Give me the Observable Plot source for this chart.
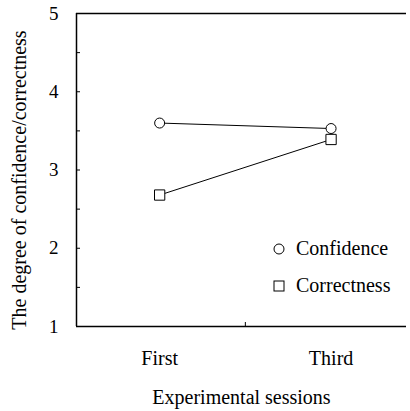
<!DOCTYPE html>
<html><head><meta charset="utf-8">
<script src="https://cdn.jsdelivr.net/npm/d3@7"></script>
<script src="https://cdn.jsdelivr.net/npm/@observablehq/plot@0.6"></script>
<style>
body{margin:0;background:#fff;}
#wrap{position:relative;width:410px;height:411px;font-family:"Liberation Serif","Times New Roman",serif;}
#wrap svg text{font-family:"Liberation Serif","Times New Roman",serif !important;}
#legend{position:absolute;left:272px;top:230px;font-size:20px;line-height:37px;color:#000;font-family:"Liberation Serif","Times New Roman",serif;}
#legend div{display:flex;align-items:center;}
#legend svg{margin-right:10px;}
</style></head>
<body><div id="wrap"><div id="legend"></div></div>
<script>
const sessions = ["First", "Third"];
const sessionPos = [1, 3];
const confidence = [3.6, 3.53];
const correctness = [2.68, 3.39];
const yTicks = [1, 2, 3, 4, 5];
const yMinorTicks = [1.5, 2.5, 3.5, 4.5];
const seriesNames = ["Confidence", "Correctness"];

const data = [];
sessions.forEach((s, i) => {
  data.push({series: seriesNames[0], x: sessionPos[i], y: confidence[i]});
  data.push({series: seriesNames[1], x: sessionPos[i], y: correctness[i]});
});
const labels = sessions.map((s, i) => ({x: sessionPos[i], label: s}));
const serif = '"Liberation Serif","Times New Roman",serif';

const chart = Plot.plot({
  width: 410, height: 411,
  marginLeft: 76, marginRight: 4, marginTop: 13, marginBottom: 85,
  style: {fontFamily: serif, fontSize: "20px", color: "#000", background: "#fff"},
  x: {domain: [0.03, 3.88], axis: null, label: null},
  y: {domain: [1, 5], axis: null, label: null},
  marks: [
    Plot.ruleY([1], {stroke: "#000", strokeWidth: 1.5}),
    Plot.ruleY([5], {stroke: "#000", strokeWidth: 1.5}),
    Plot.ruleX([0.03], {stroke: "#000", strokeWidth: 1.5}),
    Plot.axisY({ticks: yTicks.concat(yMinorTicks), tickSize: -4, tickFormat: d => Number.isInteger(d) ? d : "", tickPadding: 22, fontSize: 19, fontFamily: serif, stroke: "#000", label: null}),
    Plot.axisX({ticks: [2], tickSize: -4, tickFormat: () => "", stroke: "#000", label: null}),
    Plot.text(labels, {x: "x", text: "label", frameAnchor: "bottom", lineAnchor: "middle", dy: 32, fontSize: 20, fontFamily: serif}),
    Plot.line(data, {x: "x", y: "y", z: "series", stroke: "#000", strokeWidth: 1}),
    Plot.dot(data.filter(d => d.series === seriesNames[0]), {x: "x", y: "y", r: 5, symbol: "circle", fill: "#fff", stroke: "#000", strokeWidth: 1}),
    Plot.dot(data.filter(d => d.series === seriesNames[1]), {x: "x", y: "y", r: 5.8, symbol: "square", fill: "#fff", stroke: "#000", strokeWidth: 1}),
    Plot.text(["Experimental sessions"], {frameAnchor: "bottom", lineAnchor: "middle", dy: 71, fontSize: 20, fontFamily: serif}),
    Plot.text(["The degree of confidence/correctness"], {frameAnchor: "left", textAnchor: "middle", rotate: -90, dx: -57, dy: 10, fontSize: 20, fontFamily: serif})
  ]
});
d3.select(chart).selectAll("text").attr("font-family", serif);
const wrap = document.getElementById("wrap");
wrap.insertBefore(chart, wrap.firstChild);

const legend = document.getElementById("legend");
legend.innerHTML =
  `<div><svg width="14" height="14"><circle cx="7" cy="7" r="5" fill="#fff" stroke="#000"/></svg>${seriesNames[0]}</div>` +
  `<div><svg width="14" height="14"><rect x="2" y="2" width="10" height="10" fill="#fff" stroke="#000"/></svg>${seriesNames[1]}</div>`;
</script></body></html>
